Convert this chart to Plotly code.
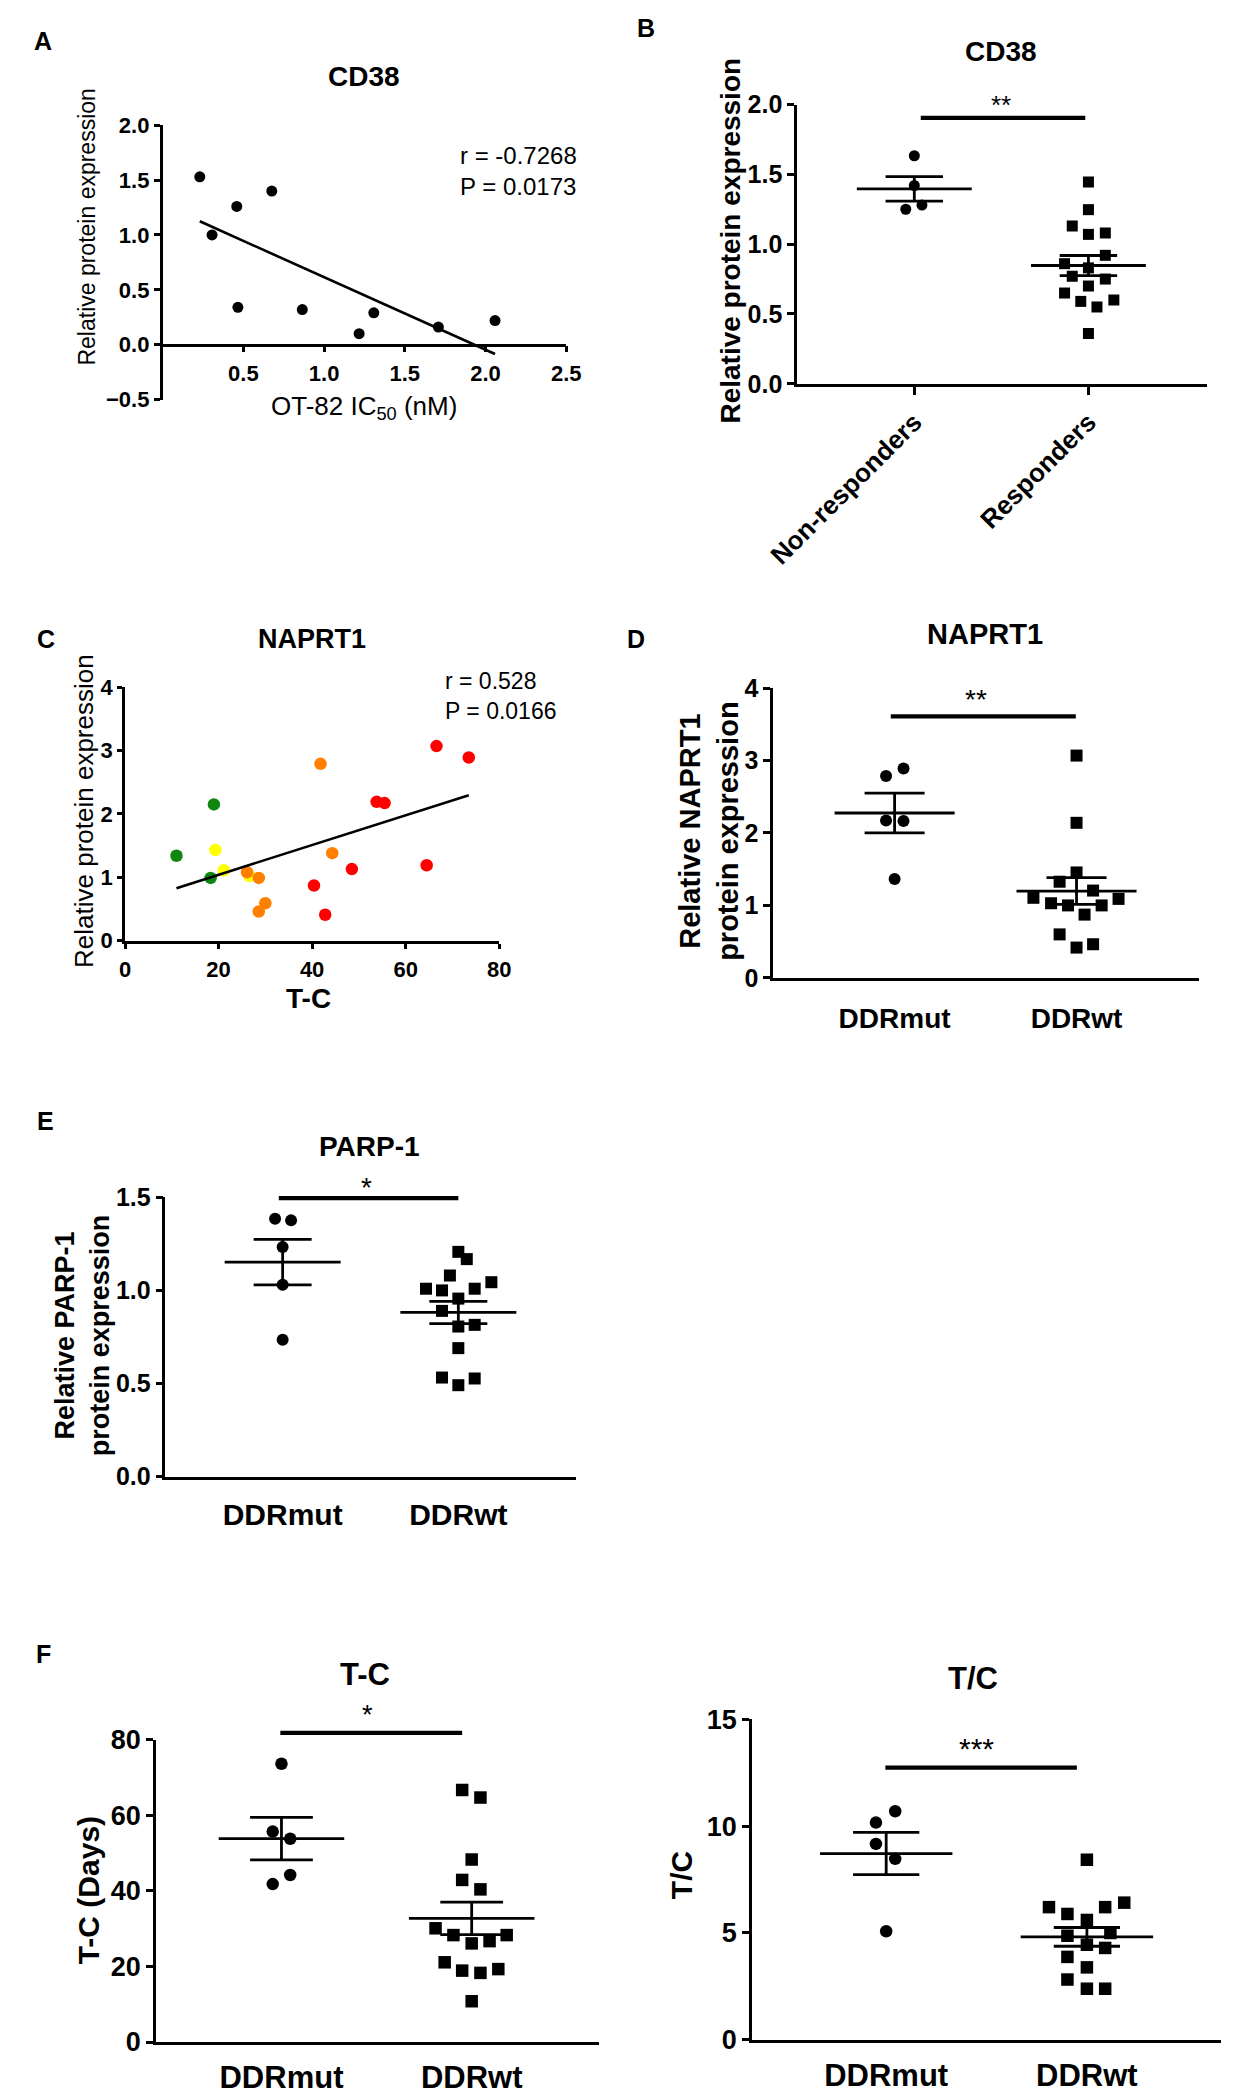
import numpy as np
import plotly.graph_objects as go

W, H = 1238, 2100
PAGE_MARGIN = 8  # default browser body margin around the plot div
FONT = "Arial, Liberation Sans, Helvetica, sans-serif"

# ---------------- data ----------------
# A: CD38 vs OT-82 IC50
a_ic50 = [0.23, 0.306, 0.459, 0.466, 0.676, 0.865, 1.217, 1.308, 1.708, 2.059]
a_cd38 = [1.53, 1.00, 1.26, 0.34, 1.40, 0.32, 0.10, 0.29, 0.16, 0.22]
a_stats = ["r = -0.7268", "P = 0.0173"]

# B: CD38 by response
b_categories = ["Non-responders", "Responders"]
b_nonresp = [1.633, 1.42, 1.25, 1.28]
b_resp = [1.445, 1.247, 1.13, 1.07, 1.08, 0.92, 0.86, 0.83, 0.77, 0.75,
          0.70, 0.65, 0.59, 0.55, 0.60, 0.36]

# C: NAPRT1 vs T-C (colour groups)
c_tc = [11.0, 19.0, 18.3, 19.3, 21.1, 26.6, 26.1, 28.6, 30.0, 28.6,
        41.8, 44.3, 40.4, 42.8, 48.5, 53.8, 55.5, 64.5, 66.6, 73.5]
c_expr = [1.34, 2.15, 0.99, 1.43, 1.11, 1.02, 1.08, 0.99, 0.59, 0.46,
          2.79, 1.38, 0.87, 0.41, 1.13, 2.19, 2.17, 1.19, 3.07, 2.89]
c_group = ["green", "green", "green", "yellow", "yellow", "yellow",
           "orange", "orange", "orange", "orange", "orange", "orange",
           "red", "red", "red", "red", "red", "red", "red", "red"]
c_stats = ["r = 0.528", "P = 0.0166"]

# D, E, F: DDRmut vs DDRwt
ddr_categories = ["DDRmut", "DDRwt"]
d_mut = [2.891, 2.786, 2.173, 2.164, 1.364]
d_wt = [3.068, 2.14, 1.455, 1.327, 1.205, 1.105, 1.09, 1.03, 1.0, 1.0,
        0.873, 0.60, 0.464, 0.418]
e_mut = [1.385, 1.376, 1.233, 1.03, 0.735]
e_wt = [1.207, 1.168, 1.08, 1.009, 1.0, 1.009, 1.044, 0.956, 0.89, 0.806,
        0.815, 0.69, 0.532, 0.491, 0.527]
f_tc_mut = [73.65, 55.7, 53.8, 44.2, 41.8]
f_tc_wt = [66.7, 64.7, 48.3, 42.9, 40.4, 30.1, 28.3, 26.1, 26.7, 28.3,
           21.1, 18.9, 18.3, 19.3, 10.8]
f_ratio_mut = [10.7, 10.17, 9.17, 8.47, 5.08]
f_ratio_wt = [8.43, 6.21, 6.21, 6.42, 5.89, 5.61, 4.87, 5.0, 4.45, 4.30,
              3.88, 3.39, 2.82, 2.39, 2.39]

# significance labels and bar heights (data units)
sig_b = ("**", 1.904)
sig_d = ("**", 3.61)
sig_e = ("*", 1.495)
sig_f1 = ("*", 81.8)
sig_f2 = ("***", 12.74)

# ---------------- layout constants (not data) ----------------
COLORS = {"green": "#0f870f", "yellow": "#ffff00", "orange": "#ff8000", "red": "#ff0000"}
# horizontal scatter offsets of the dots within a column (category units)
b_off = [[0, 0, -0.049, 0.044],
         [0, 0, -0.093, 0, 0.097, 0.097, -0.137, 0, -0.093, 0.097, 0, -0.137, -0.044, 0.049, 0.146, 0]]
d_off = [[0.049, -0.047, -0.047, 0.049, 0],
         [0, 0, 0, -0.093, 0.091, -0.237, 0.231, -0.14, -0.047, 0.138, 0.044, -0.093, 0.091, 0]]
e_off = [[-0.043, 0.048, 0, 0, 0],
         [0, 0.048, -0.048, -0.184, -0.093, 0.093, 0.188, 0, -0.093, 0, 0.093, 0, -0.093, 0, 0.093]]
f1_off = [[0, -0.046, 0.046, 0.046, -0.046],
          [-0.05, 0.046, 0, -0.05, 0.046, -0.19, -0.096, 0, 0.094, 0.184, -0.142, -0.05, 0.046, 0.14, 0]]
f2_off = [[0.045, -0.051, -0.051, 0.045, 0],
          [0, -0.189, 0.091, 0.186, -0.097, 0, -0.097, 0.117, 0, 0.091, -0.097, 0, -0.097, 0, 0.091]]


def px_x(p):
    return (p - PAGE_MARGIN) / W


def px_y(p):
    return 1 - (p - PAGE_MARGIN) / H


fig = go.Figure()
layout = dict(width=W, height=H, margin=dict(l=0, r=0, t=0, b=0),
              paper_bgcolor="white", plot_bgcolor="white", showlegend=False,
              font=dict(family=FONT, color="black"))
annotations = []
shapes = []
AX = {}


def refs(n):
    return ("x", "y") if n == 1 else (f"x{n}", f"y{n}")


def y_to_paper(n, v):
    """Map a data value on axis n to paper coordinates via that axis' domain/range."""
    yt, yb, (r0, r1) = AX[n]
    py = yb - (v - r0) / (r1 - r0) * (yb - yt)
    return px_y(py)


def set_axes(n, xl, xr, yt, yb, xrng, yrng, yvals, yfmt, yfs,
             xvals, xtext=None, xfmt=None, xfs=20, xticks="", xticklen=0,
             xangle=0, xstand=0, yticklen=6, ystand=0, xpos=None, lw=2.6):
    AX[n] = (yt, yb, yrng)
    xk = "xaxis" if n == 1 else f"xaxis{n}"
    yk = "yaxis" if n == 1 else f"yaxis{n}"
    xa, ya = refs(n)
    xd = dict(domain=[px_x(xl), px_x(xr)], range=xrng, anchor=ya, showline=True,
              linecolor="black", linewidth=lw, showgrid=False, zeroline=False,
              ticks=xticks, ticklen=xticklen, tickwidth=lw, tickcolor="black",
              tickvals=xvals, tickangle=xangle,
              tickfont=dict(family=FONT, size=xfs, color="black", weight="bold"),
              ticklabelstandoff=xstand, fixedrange=True)
    if xtext is not None:
        xd["ticktext"] = xtext
    if xfmt is not None:
        xd["tickformat"] = xfmt
    if xpos is not None:
        xd.update(anchor="free", position=px_y(xpos))
    yd = dict(domain=[px_y(yb), px_y(yt)], range=yrng, anchor=xa, showline=True,
              linecolor="black", linewidth=lw, showgrid=False, zeroline=False,
              ticks="outside", ticklen=yticklen, tickwidth=lw, tickcolor="black",
              tickvals=yvals, tickfont=dict(family=FONT, size=yfs, color="black", weight="bold"),
              ticklabelstandoff=ystand, fixedrange=True)
    if yfmt is not None:
        yd["tickformat"] = yfmt
    layout[xk] = xd
    layout[yk] = yd


def ann(text, x, y, size, bold=False, angle=0, xanchor="center", yanchor="middle", align="center"):
    annotations.append(dict(text=f"<b>{text}</b>" if bold else text, x=px_x(x), y=px_y(y),
                            xref="paper", yref="paper", showarrow=False, textangle=angle,
                            xanchor=xanchor, yanchor=yanchor, align=align,
                            font=dict(family=FONT, size=size, color="black")))


def dot_panel(n, groups, offsets, symbols, msize, sig, sig_x, star_x, star_shift, star_fs,
              half=0.33, cap=0.165, lw=2.8):
    xa, ya = refs(n)
    for ci, (vals, offs, sym) in enumerate(zip(groups, offsets, symbols)):
        fig.add_trace(go.Scatter(x=[ci + o for o in offs], y=vals, mode="markers",
                                 xaxis=xa, yaxis=ya, cliponaxis=False,
                                 marker=dict(symbol=sym, size=msize, color="black",
                                             line=dict(width=0)), hoverinfo="skip"))
    for ci, vals in enumerate(groups):
        v = np.asarray(vals, dtype=float)
        m = v.mean()
        s = v.std(ddof=1) / np.sqrt(len(v))
        xs = [ci - half, ci + half, None, ci - cap, ci + cap, None,
              ci - cap, ci + cap, None, ci, ci]
        ys = [m, m, None, m + s, m + s, None, m - s, m - s, None, m - s, m + s]
        fig.add_trace(go.Scatter(x=xs, y=ys, mode="lines", xaxis=xa, yaxis=ya,
                                 cliponaxis=False, line=dict(color="black", width=lw),
                                 hoverinfo="skip"))
    label, yb = sig
    yp = y_to_paper(n, yb)
    shapes.append(dict(type="line", xref=xa, yref="paper", x0=sig_x[0], x1=sig_x[1],
                       y0=yp, y1=yp, line=dict(color="black", width=4.2)))
    annotations.append(dict(text=label, x=star_x, y=yp, xref=xa, yref="paper", showarrow=False,
                            yanchor="middle", yshift=star_shift,
                            font=dict(family=FONT, size=star_fs, color="black")))


# ---------------- Panel A ----------------
set_axes(1, 135.5, 555, 111.7, 390, [0, 2.5], [-0.5, 2.0],
         [-0.5, 0, 0.5, 1.0, 1.5, 2.0], ".1f", 22,
         [0.5, 1.0, 1.5, 2.0, 2.5], xfmt=".1f", xfs=22, xticks="outside",
         xticklen=6, xstand=2, yticklen=6, xpos=334.3)
fig.add_trace(go.Scatter(x=a_ic50, y=a_cd38, mode="markers", xaxis="x", yaxis="y",
                         cliponaxis=False, marker=dict(size=11, color="black"),
                         hoverinfo="skip"))
sa, ia = np.polyfit(a_ic50, a_cd38, 1)
ax_line = np.array([min(a_ic50), max(a_ic50)])
fig.add_trace(go.Scatter(x=ax_line, y=sa * ax_line + ia, mode="lines", xaxis="x", yaxis="y",
                         cliponaxis=False, line=dict(color="black", width=2.6), hoverinfo="skip"))
ann("A", 11.5, 26.7, 25, bold=True)
ann("CD38", 344.4, 62, 28, bold=True)
ann("Relative protein expression", 57.4, 215, 23, angle=-90)
ann("OT-82 IC<sub>50</sub> (nM)", 344.4, 398, 26)
ann("<br>".join(a_stats), 442, 158.3, 24, xanchor="left", align="left")

# ---------------- Panel B ----------------
set_axes(2, 795, 1220.7, 90.7, 374, [-0.673, 1.679], [0, 2.0],
         [0, 0.5, 1.0, 1.5, 2.0], ".1f", 25,
         [0, 1], xtext=b_categories, xfs=26, xticks="outside", xticklen=8,
         xangle=-45, xstand=2, yticklen=7)
dot_panel(2, [b_nonresp, b_resp], b_off, ["circle", "square"], 11, sig_b,
          (0.037, 0.982), 0.5, 12.6, 26)
ann("B", 638, 13.3, 25, bold=True)
ann("CD38", 1006.5, 36.7, 28, bold=True)
ann("Relative protein expression", 726, 229, 28, bold=True, angle=-90)

# ---------------- Panel C ----------------
set_axes(3, 96.4, 485.3, 681.7, 939, [0, 80], [0, 4],
         [0, 1, 2, 3, 4], None, 22,
         [0, 20, 40, 60, 80], xfs=22, xticks="outside", xticklen=5, xstand=2, yticklen=5)
fig.add_trace(go.Scatter(x=c_tc, y=c_expr, mode="markers", xaxis="x3", yaxis="y3",
                         cliponaxis=False,
                         marker=dict(size=12.5, color=[COLORS[g] for g in c_group],
                                     line=dict(width=0)), hoverinfo="skip"))
sc, ic = np.polyfit(c_tc, c_expr, 1)
cx_line = np.array([min(c_tc), max(c_tc)])
fig.add_trace(go.Scatter(x=cx_line, y=sc * cx_line + ic, mode="lines", xaxis="x3", yaxis="y3",
                         cliponaxis=False, line=dict(color="black", width=2.6), hoverinfo="skip"))
ann("C", 14.5, 633.3, 25, bold=True)
ann("NAPRT1", 290.9, 633.3, 27, bold=True)
ann("Relative protein expression", 53.6, 807.5, 26, angle=-90)
ann("T-C", 287, 997.3, 28, bold=True)
ann("<br>".join(c_stats), 426.7, 690.8, 23, xanchor="left", align="left")

# ---------------- Panel D ----------------
set_axes(4, 770.2, 1212.7, 682.7, 976.7, [-0.667, 1.673], [0, 4],
         [0, 1, 2, 3, 4], None, 25,
         [0, 1], xtext=ddr_categories, xfs=28, xstand=14, yticklen=7)
dot_panel(4, [d_mut, d_wt], d_off, ["circle", "square"], 12, sig_d,
          (-0.021, 0.996), 0.445, 16.5, 28)
ann("D", 628, 633.3, 25, bold=True)
ann("NAPRT1", 990.5, 628.3, 29, bold=True)
ann("Relative NAPRT1<br>protein expression", 704, 828, 29, bold=True, angle=-90)

# ---------------- Panel E ----------------
set_axes(5, 138.4, 565.4, 1199.3, 1482.7, [-0.667, 1.671], [0, 1.5],
         [0, 0.5, 1.0, 1.5], ".1f", 25,
         [0, 1], xtext=ddr_categories, xfs=30, xstand=10, yticklen=7)
dot_panel(5, [e_mut, e_wt], e_off, ["circle", "square"], 12, sig_e,
          (-0.022, 1.0), 0.48, 10.5, 28)
ann("E", 13.8, 1121.7, 25, bold=True)
ann("PARP-1", 350, 1147.3, 28, bold=True)
ann("Relative PARP-1<br>protein expression", 53, 1339, 27, bold=True, angle=-90)

# ---------------- Panel F (left: T-C) ----------------
set_axes(6, 128.5, 589, 1749.6, 2056.3, [-0.66, 1.669], [0, 80],
         [0, 20, 40, 60, 80], None, 27,
         [0, 1], xtext=ddr_categories, xfs=31, xstand=6, yticklen=7)
dot_panel(6, [f_tc_mut, f_tc_wt], f1_off, ["circle", "square"], 12.5, sig_f1,
          (-0.006, 0.95), 0.45, 17.7, 27)
ann("F", 11.9, 1662.4, 25, bold=True)
ann("T-C", 346, 1683, 31, bold=True)
ann("T-C (Days)", 59.3, 1902, 30, bold=True, angle=-90)

# ---------------- Panel F (right: T/C) ----------------
set_axes(7, 748, 1236, 1729, 2054, [-0.669, 1.67], [0, 15],
         [0, 5, 10, 15], None, 27,
         [0, 1], xtext=ddr_categories, xfs=31, xstand=6, yticklen=7)
dot_panel(7, [f_ratio_mut, f_ratio_wt], f2_off, ["circle", "square"], 12.5, sig_f2,
          (-0.004, 0.95), 0.45, 19, 30)
ann("T/C", 978.3, 1687.6, 31, bold=True)
ann("T/C", 674.3, 1887, 30, bold=True, angle=-90)

layout["annotations"] = annotations
layout["shapes"] = shapes
fig.update_layout(**layout)
fig.write_html("out.html")
